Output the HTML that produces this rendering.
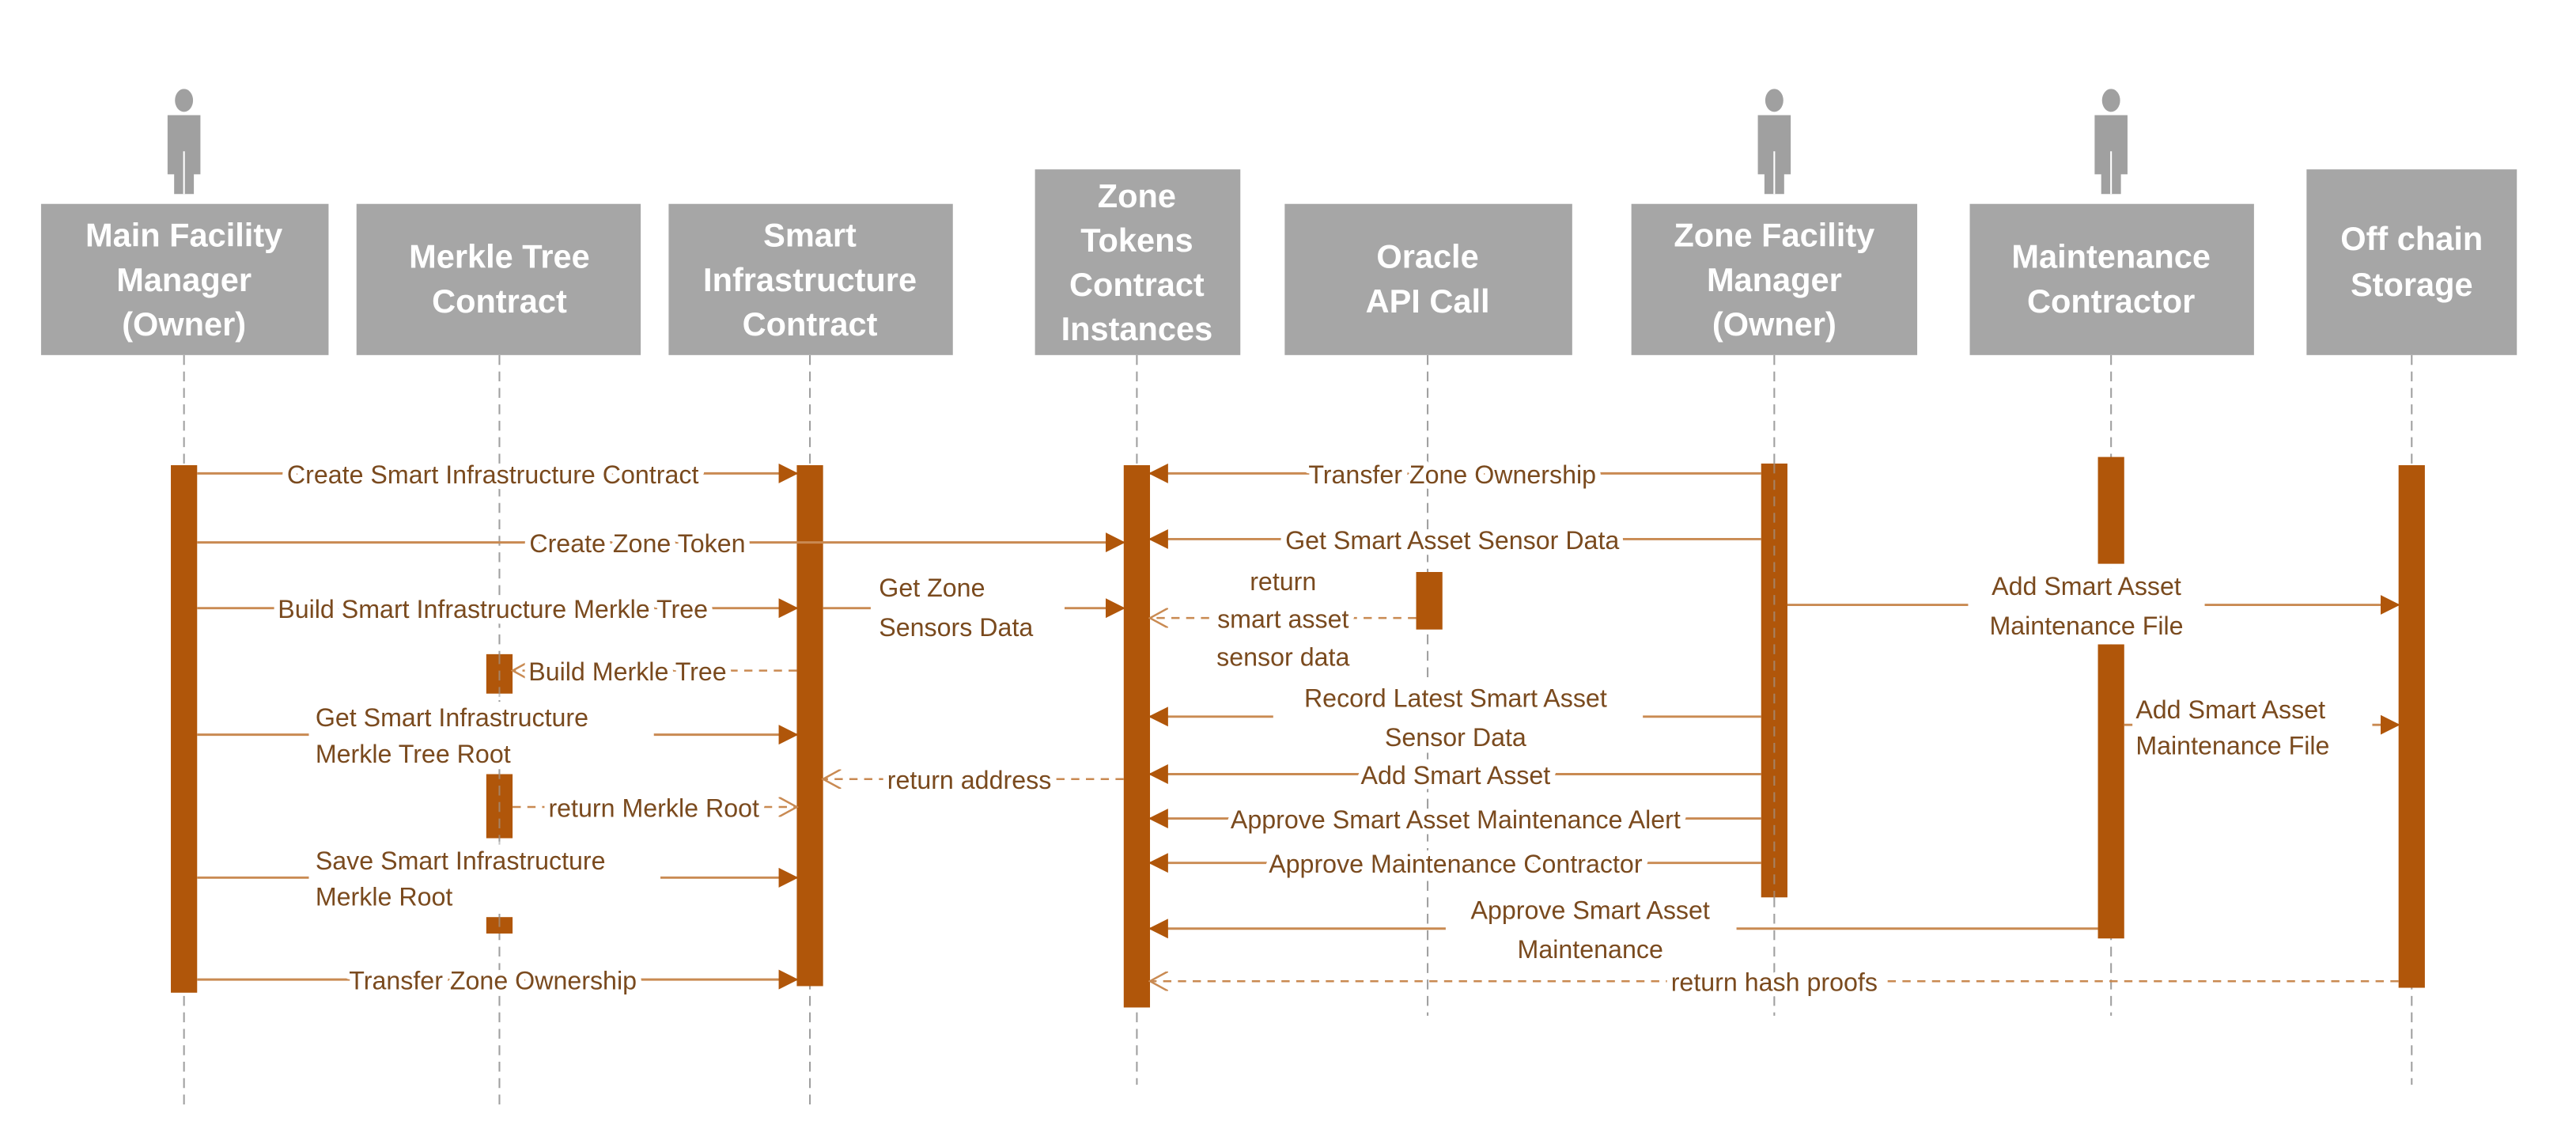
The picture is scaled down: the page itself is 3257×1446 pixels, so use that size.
<!DOCTYPE html>
<html><head><meta charset="utf-8"><style>
html,body{margin:0;padding:0;background:#fff;}
svg{display:block;}
.hd{font-family:"Liberation Sans",sans-serif;font-weight:bold;font-size:20px;fill:#fff;text-anchor:middle;}
.t{font-family:"Liberation Sans",sans-serif;font-size:15.5px;fill:#7a4a1e;stroke:#fff;stroke-width:7px;paint-order:stroke;stroke-linejoin:round;}
.m{text-anchor:middle;}
.ll{stroke:#a0a0a0;stroke-width:1;stroke-dasharray:6,4;fill:none;}
.ln{stroke:#c98a52;stroke-width:1.4;fill:none;}
.dl{stroke:#c98a52;stroke-width:1.2;fill:none;stroke-dasharray:5,4;}
.bar{fill:#b0560a;}
.box{fill:#a6a6a6;}
.wb{fill:#fff;}
</style></head><body>
<svg width="3257" height="1446" viewBox="0 0 1568 696" xmlns="http://www.w3.org/2000/svg">
<defs>
<marker id="f" markerWidth="12" markerHeight="12" refX="11" refY="6" orient="auto" markerUnits="userSpaceOnUse"><path d="M0,0 L12,6 L0,12 z" fill="#b0560a"/></marker>
<marker id="o" markerWidth="12" markerHeight="12" refX="11" refY="6" orient="auto" markerUnits="userSpaceOnUse"><path d="M0,0 L11,6 L0,12" fill="none" stroke="#c98a52" stroke-width="1.2"/></marker>
</defs>

<!-- lifelines -->
<line class="ll" x1="112" y1="216" x2="112" y2="676"/>
<line class="ll" x1="304" y1="216" x2="304" y2="676"/>
<line class="ll" x1="493" y1="216" x2="493" y2="676"/>
<line class="ll" x1="692" y1="216" x2="692" y2="660"/>
<line class="ll" x1="869" y1="216" x2="869" y2="618"/>
<line class="ll" x1="1080" y1="216" x2="1080" y2="618"/>
<line class="ll" x1="1285" y1="216" x2="1285" y2="618"/>
<line class="ll" x1="1468" y1="216" x2="1468" y2="660"/>

<!-- actors -->
<g fill="#a0a0a0">
<ellipse cx="112" cy="61" rx="5.5" ry="7"/><rect x="102" y="70" width="20" height="36"/><rect x="106" y="90" width="12" height="28"/>
<ellipse cx="1080" cy="61" rx="5.5" ry="7"/><rect x="1070" y="70" width="20" height="36"/><rect x="1074" y="90" width="12" height="28"/>
<ellipse cx="1285" cy="61" rx="5.5" ry="7"/><rect x="1275" y="70" width="20" height="36"/><rect x="1279" y="90" width="12" height="28"/>
</g>
<g stroke="#fff" stroke-width="1"><line x1="112" y1="92" x2="112" y2="118"/><line x1="1080" y1="92" x2="1080" y2="118"/><line x1="1285" y1="92" x2="1285" y2="118"/></g>

<!-- header boxes -->
<rect class="box" x="25" y="124" width="175" height="92"/>
<text class="hd" x="112" y="150">Main Facility</text><text class="hd" x="112" y="177">Manager</text><text class="hd" x="112" y="204">(Owner)</text>
<rect class="box" x="217" y="124" width="173" height="92"/>
<text class="hd" x="304" y="163">Merkle Tree</text><text class="hd" x="304" y="190">Contract</text>
<rect class="box" x="407" y="124" width="173" height="92"/>
<text class="hd" x="493" y="150">Smart</text><text class="hd" x="493" y="177">Infrastructure</text><text class="hd" x="493" y="204">Contract</text>
<rect class="box" x="630" y="103" width="125" height="113"/>
<text class="hd" x="692" y="126">Zone</text><text class="hd" x="692" y="153">Tokens</text><text class="hd" x="692" y="180">Contract</text><text class="hd" x="692" y="207">Instances</text>
<rect class="box" x="782" y="124" width="175" height="92"/>
<text class="hd" x="869" y="163">Oracle</text><text class="hd" x="869" y="190">API Call</text>
<rect class="box" x="993" y="124" width="174" height="92"/>
<text class="hd" x="1080" y="150">Zone Facility</text><text class="hd" x="1080" y="177">Manager</text><text class="hd" x="1080" y="204">(Owner)</text>
<rect class="box" x="1199" y="124" width="173" height="92"/>
<text class="hd" x="1285" y="163">Maintenance</text><text class="hd" x="1285" y="190">Contractor</text>
<rect class="box" x="1404" y="103" width="128" height="113"/>
<text class="hd" x="1468" y="152">Off chain</text><text class="hd" x="1468" y="180">Storage</text>

<!-- activation bars -->
<rect class="bar" x="104" y="283" width="16" height="321"/>
<rect class="bar" x="296" y="398" width="16" height="24"/>
<rect class="bar" x="296" y="471" width="16" height="39"/>
<rect class="bar" x="296" y="558" width="16" height="10"/>
<rect class="bar" x="485" y="283" width="16" height="317"/>
<rect class="bar" x="684" y="283" width="16" height="330"/>
<rect class="bar" x="862" y="348" width="16" height="35"/>
<rect class="bar" x="1072" y="282" width="16" height="264"/>
<rect class="bar" x="1277" y="278" width="16" height="65"/>
<rect class="bar" x="1277" y="392" width="16" height="179"/>
<rect class="bar" x="1460" y="283" width="16" height="318"/>
<g class="ll" stroke="#e0b080" opacity="0.6"><line x1="304" y1="398" x2="304" y2="568"/><line x1="1080" y1="282" x2="1080" y2="546"/></g>

<!-- left messages -->
<line class="ln" x1="120" y1="288" x2="485" y2="288" marker-end="url(#f)"/>
<text class="t m" x="300" y="294">Create Smart Infrastructure Contract</text>
<line class="ln" x1="120" y1="330" x2="684" y2="330" marker-end="url(#f)"/>
<text class="t m" x="388" y="336">Create Zone Token</text>
<line class="ln" x1="120" y1="370" x2="485" y2="370" marker-end="url(#f)"/>
<text class="t m" x="300" y="376">Build Smart Infrastructure Merkle Tree</text>
<line class="ln" x1="501" y1="370" x2="684" y2="370" marker-end="url(#f)"/>
<rect class="wb" x="530" y="347" width="118" height="45"/>
<text class="t" x="535" y="363">Get Zone</text><text class="t" x="535" y="387">Sensors Data</text>
<line class="dl" x1="485" y1="408" x2="312" y2="408" marker-end="url(#o)"/>
<text class="t m" x="382" y="414">Build Merkle Tree</text>
<line class="ln" x1="120" y1="447" x2="485" y2="447" marker-end="url(#f)"/>
<rect class="wb" x="188" y="427" width="210" height="41"/>
<text class="t" x="192" y="442">Get Smart Infrastructure</text><text class="t" x="192" y="464">Merkle Tree Root</text>
<line class="dl" x1="684" y1="474" x2="501" y2="474" marker-end="url(#o)"/>
<text class="t m" x="590" y="480">return address</text>
<line class="dl" x1="312" y1="491" x2="485" y2="491" marker-end="url(#o)"/>
<text class="t m" x="398" y="497">return Merkle Root</text>
<line class="ln" x1="120" y1="534" x2="485" y2="534" marker-end="url(#f)"/>
<rect class="wb" x="188" y="514" width="214" height="41"/>
<text class="t" x="192" y="529">Save Smart Infrastructure</text><text class="t" x="192" y="551">Merkle Root</text>
<line class="ln" x1="120" y1="596" x2="485" y2="596" marker-end="url(#f)"/>
<text class="t m" x="300" y="602">Transfer Zone Ownership</text>

<!-- right messages -->
<line class="ln" x1="1072" y1="288" x2="700" y2="288" marker-end="url(#f)"/>
<text class="t m" x="884" y="294">Transfer Zone Ownership</text>
<line class="ln" x1="1072" y1="328" x2="700" y2="328" marker-end="url(#f)"/>
<text class="t m" x="884" y="334">Get Smart Asset Sensor Data</text>
<line class="dl" x1="862" y1="376" x2="700" y2="376" marker-end="url(#o)"/>
<text class="t m" x="781" y="359">return</text><text class="t m" x="781" y="382">smart asset</text><text class="t m" x="781" y="405">sensor data</text>
<line class="ln" x1="1088" y1="368" x2="1460" y2="368" marker-end="url(#f)"/>
<rect class="wb" x="1198" y="346" width="144" height="46"/>
<text class="t m" x="1270" y="362">Add Smart Asset</text><text class="t m" x="1270" y="386">Maintenance File</text>
<line class="ln" x1="1072" y1="436" x2="700" y2="436" marker-end="url(#f)"/>
<rect class="wb" x="775" y="414" width="225" height="44"/>
<text class="t m" x="886" y="430">Record Latest Smart Asset</text><text class="t m" x="886" y="454">Sensor Data</text>
<line class="ln" x1="1293" y1="441" x2="1460" y2="441" marker-end="url(#f)"/>
<rect class="wb" x="1298" y="421" width="146" height="42"/>
<text class="t" x="1300" y="437">Add Smart Asset</text><text class="t" x="1300" y="459">Maintenance File</text>
<line class="ln" x1="1072" y1="471" x2="700" y2="471" marker-end="url(#f)"/>
<text class="t m" x="886" y="477">Add Smart Asset</text>
<line class="ln" x1="1072" y1="498" x2="700" y2="498" marker-end="url(#f)"/>
<text class="t m" x="886" y="504">Approve Smart Asset Maintenance Alert</text>
<line class="ln" x1="1072" y1="525" x2="700" y2="525" marker-end="url(#f)"/>
<text class="t m" x="886" y="531">Approve Maintenance Contractor</text>
<line class="ln" x1="1277" y1="565" x2="700" y2="565" marker-end="url(#f)"/>
<rect class="wb" x="880" y="543" width="177" height="44"/>
<text class="t m" x="968" y="559">Approve Smart Asset</text><text class="t m" x="968" y="583">Maintenance</text>
<line class="dl" x1="1460" y1="597" x2="700" y2="597" marker-end="url(#o)"/>
<text class="t m" x="1080" y="603">return hash proofs</text>
</svg>
</body></html>
